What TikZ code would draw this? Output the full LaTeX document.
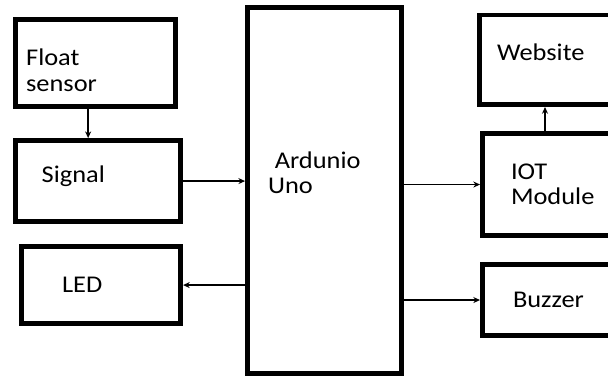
\documentclass[tikz,border=0pt]{standalone}
\usepackage{fontspec}
\setmainfont{Carlito}[FakeStretch=1.1]
\usetikzlibrary{arrows.meta, positioning}

\begin{document}
\begin{tikzpicture}[>={Stealth[length=5pt, width=4.5pt]},
    block/.style={draw, line width=3.6pt, align=left, inner ysep=0pt,
        font=\fontsize{18pt}{19pt}\selectfont},
    link/.style={->, line width=1pt}]
    \path[use as bounding box, clip] (0,0) rectangle (456pt,-282pt);

    % controller in the middle
    \node[block, text width=84.6pt, inner xsep=15.5pt, minimum height=274.6pt,
        text height=6.25pt, text depth=40pt]
        (uno) at (243.4pt,-142.9pt) {\hspace*{5pt}Ardunio\\Uno};

    % inputs and LED on the left
    \node[block, text width=84.5pt, inner xsep=19.7pt, minimum height=60.9pt,
        text height=13.5pt, text depth=12pt,
        left=46.5pt of uno.west, yshift=7.1pt] (signal) {Signal};
    \node[block, text width=104.2pt, inner xsep=8pt, minimum height=65.4pt,
        text height=16pt, text depth=12pt,
        above=21.75pt of signal.north west, anchor=south west] (float) {Float\\sensor};
    \node[block, text width=58.5pt, inner xsep=30.4pt, minimum height=57.9pt,
        below=15pt of signal.south east, anchor=north east] (led) {LED};

    % outputs on the right
    \node[block, text width=73.5pt, inner xsep=21.45pt, minimum height=76.65pt,
        right=57pt of uno, yshift=4.5pt] (iot) {IOT\\Module};
    \node[block, text width=92.2pt, inner xsep=13.2pt, minimum height=67.3pt,
        text height=13.5pt, text depth=12pt,
        above=18pt of iot.north west, anchor=south west, xshift=-2.25pt] (web) {Website};
    \node[block, text width=70.5pt, inner xsep=22.95pt, minimum height=53.4pt,
        below=18pt of iot.south west, anchor=north west] (buzzer) {Buzzer};

    \draw[link] ([xshift=-5.6pt]float.south) -- ([xshift=-5.6pt]float.south |- signal.north);
    \draw[link] (signal.east) -- (signal.east -| uno.west);
    \draw[link] (led.east -| uno.west) -- (led.east);
    \draw[link] (iot.west -| uno.east) -- (iot.west);
    \draw[link] (buzzer.west -| uno.east) -- (buzzer.west);
    \draw[link] ([xshift=48.75pt]iot.north west) -- ([xshift=48.75pt]iot.north west |- web.south);
\end{tikzpicture}
\end{document}
